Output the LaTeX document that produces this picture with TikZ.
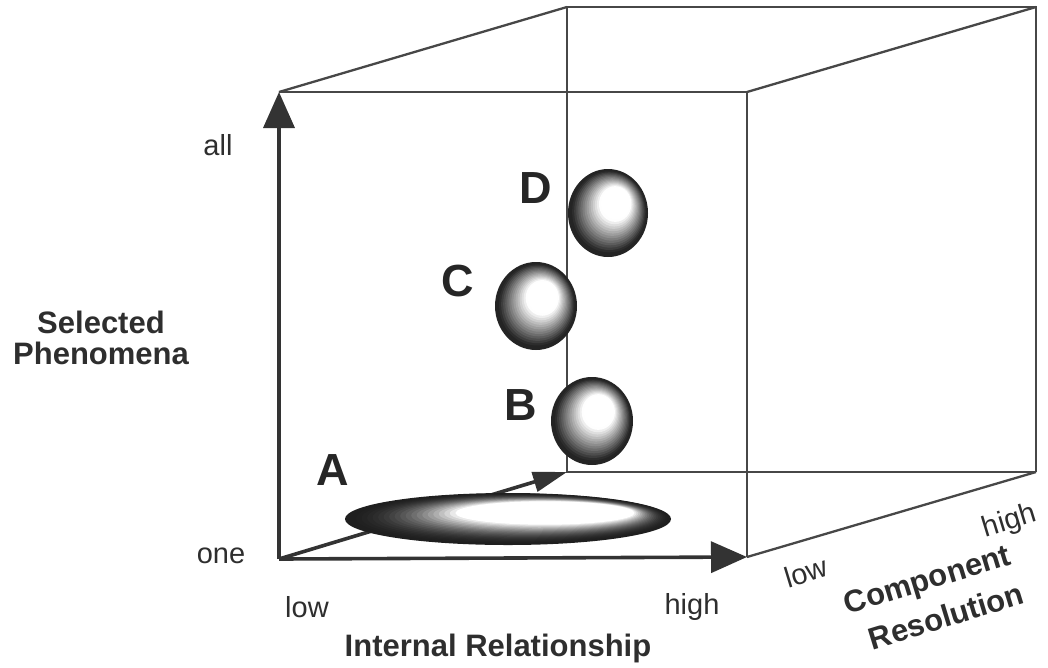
\documentclass[tikz,border=0pt]{standalone}
\usepackage{fontspec}
\setmainfont{Liberation Sans}
\usetikzlibrary{arrows.meta}
\tikzset{
  edge/.style={draw=black!72, line width=2.3pt},
  axis/.style={draw=black!80, line width=3.6pt, -{Triangle[length=36pt,width=31pt]}},
  lbl/.style={text=black!82, font=\fontsize{29}{33}\selectfont, inner sep=0pt},
  blbl/.style={text=black!82, font=\bfseries\fontsize{31}{31}\selectfont, inner sep=0pt, align=center},
  letter/.style={text=black!85, font=\bfseries\fontsize{45}{45}\selectfont, inner sep=0pt},
}
\newcommand\myball[6]{% cx cy rx ry hx hy
  \foreach \t in {0,0.06,...,0.96}{
    \pgfmathsetmacro\c{max(0,min(86,95-105*\t))}
    \fill[black!\c] ({#1+\t*(#5-#1)},{#2+\t*(#6-#2)}) ellipse [x radius={#3*(1-0.66*\t)}, y radius={#4*(1-0.66*\t)}];
  }
}
\begin{document}
\begin{tikzpicture}[x=1pt,y=-1pt]
\useasboundingbox (0,0) rectangle (1048,667);
% cube corners
\coordinate (O) at (279,559);
\coordinate (FTL) at (279,92);
\coordinate (FTR) at (747,92);
\coordinate (FBR) at (747,557);
\coordinate (BTL) at (567,7);
\coordinate (BTR) at (1036,7);
\coordinate (BBR) at (1036,472);
\coordinate (BBL) at (567,472);
% back edges
\draw[edge] (BTL) -- (BBL) -- (BBR);
\draw[edge] (BTL) -- (BTR) -- (BBR);
\draw[edge] (FTL) -- (BTL);
\draw[edge] (FTR) -- (BTR);
\draw[edge] (FBR) -- (BBR);
\draw[edge] (FTL) -- (FTR) -- (FBR);
% component axis
\draw[axis, -{Triangle[length=34pt,width=20pt]}] (O) -- (BBL);
% ellipse A
\foreach \t in {0,0.05,...,1.01}{
  \pgfmathsetmacro\c{max(0,88*(1-\t*\t))}
  \fill[black!\c] ({508+\t*(545-508)},{519+\t*(513-519)}) ellipse [x radius={163*(1-0.45*\t)}, y radius={26*(1-0.55*\t)}];
}
% axes
\draw[axis] (O) -- (FTL);
\draw[axis] (O) -- (FBR);
% spheres
\myball{608}{213}{40}{44}{616}{203}
\myball{536}{306}{41}{44}{543}{297}
\myball{592}{421}{41}{44}{599}{411}
% letters
\node[letter] (la) at (333,470) {A};
\node[letter] (lb) at (521,405) {B};
\node[letter] (lc) at (458,281) {C};
\node[letter] (ld) at (536,188) {D};
% labels
\node[lbl] (all) at (218,145) {all};
\node[lbl] (one) at (221,556) {one};
\node[lbl] (xlow) at (307,607) {low};
\node[lbl] (xhigh) at (692,607) {high};
\node[blbl] (xname) at (498,648) {Internal Relationship};
\node[blbl] (yname1) at (101,322) {Selected};
\node[blbl] (yname2) at (101,353) {Phenomena};
\node[lbl, rotate=17] (zlow) at (806,572) {low};
\node[lbl, rotate=17] (zhigh) at (1010,522) {high};
\node[blbl, rotate=17] (zname1) at (928,582) {Component};
\node[blbl, rotate=17] (zname2) at (946,616) {Resolution};
\end{tikzpicture}
\end{document}
